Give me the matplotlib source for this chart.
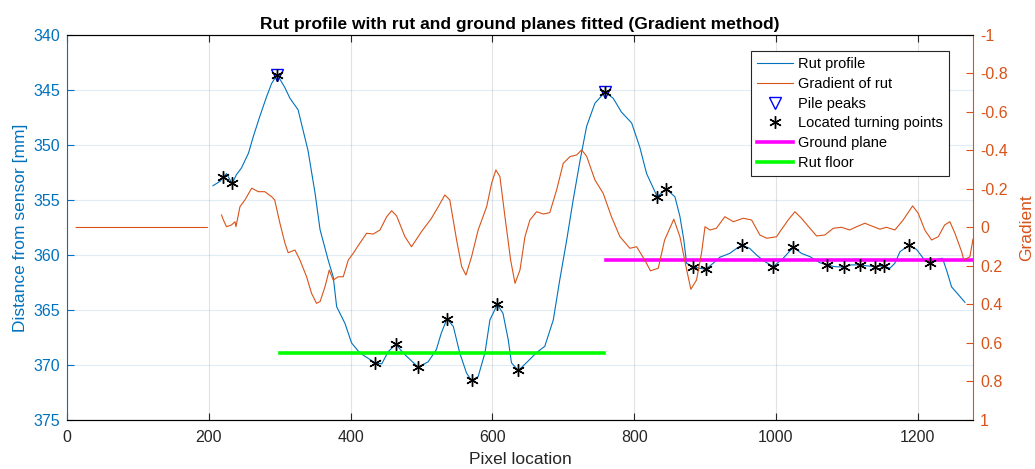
import matplotlib.pyplot as plt
import numpy as np
from matplotlib.lines import Line2D

plt.rcParams['font.family'] = ['Liberation Sans', 'DejaVu Sans']

# rut profile (pixel location, distance from sensor in mm)
rut_x = [206, 216, 220.5, 225, 233, 239, 246, 256, 263, 272, 281.6, 288.7, 296.6, 307.5, 314.5, 326, 340, 350,
         357, 368.6, 375.6, 380.4, 392, 401.5, 413, 425, 434.4, 444, 453, 464, 474, 495.5, 509.6, 521, 528, 536,
         545, 554, 563.7, 570.7, 580, 589.6, 596.6, 607, 615, 622.4, 627, 636.6, 648, 662, 674, 686, 695, 705,
         714, 723.5, 733, 744.7, 758.8, 770.5, 782, 796.5, 808, 817.6, 832.6, 845, 857.5, 864.6, 870, 874,
         883.3, 901, 911.5, 921, 935, 944.6, 952, 963, 972.7, 982, 996.2, 1010.3, 1024.4, 1036, 1048, 1062,
         1071.5, 1083, 1096, 1106.7, 1118.5, 1130, 1139.6, 1152, 1160.8, 1167.8, 1175, 1188, 1198.4, 1207.8,
         1217, 1226.7, 1235, 1240.8, 1247.8, 1257.3, 1266.6]
rut_y = [353.7, 353.3, 352.9, 352.6, 353.5, 352.7, 352.1, 350.75, 349.2, 347.4, 345.6, 344.4, 343.6, 344.8,
         345.75, 346.8, 350.5, 354.4, 357.7, 360.5, 362.0, 364.7, 366.2, 368.0, 368.9, 369.4, 369.8, 369.9,
         368.8, 368.1, 368.9, 370.2, 369.7, 368.6, 367.1, 365.8, 366.5, 368.9, 370.75, 371.4, 371.05, 368.9,
         365.9, 364.5, 365.3, 367.7, 369.8, 370.5, 369.8, 368.9, 368.3, 365.9, 362.3, 358.6, 355.0, 351.5,
         348.3, 346.2, 345.2, 345.75, 347.0, 348.0, 350.2, 352.6, 354.7, 354.0, 354.7, 356.5, 358.6, 360.75,
         361.1, 361.3, 360.75, 360.2, 359.85, 359.4, 359.1, 359.4, 360.0, 360.5, 361.06, 360.3, 359.3, 359.85,
         360.15, 360.7, 360.9, 361.06, 361.1, 360.9, 360.9, 361.0, 361.06, 361.0, 361.2, 360.75, 359.7, 359.1,
         359.5, 360.3, 360.75, 360.4, 360.3, 361.4, 362.9, 363.6, 364.3]

# gradient of rut (right axis); None splits the flat lead-in from the rest
grad_x = [13, 198, None,
          218, 220.5, 225, 232, 237, 238.4, 244, 251, 260.5, 270, 279, 288.7, 293, 300.4, 307.5, 312, 321.6,
          328.6, 338, 345, 352, 357, 364, 370, 375.6, 382.6, 389.7, 396.8, 403.8, 413, 422.7, 432, 441.5, 451,
          458, 465, 476.7, 486, 500, 514, 523.7, 533, 540, 549.6, 556.7, 562.8, 570.7, 580, 592, 599, 605,
          610.7, 617.8, 625.8, 632, 639, 646, 653, 662.5, 672, 681, 690.7, 700, 709.5, 719, 726, 733, 744.7,
          756.4, 768, 780, 794, 803.5, 815, 823, 834, 843, 856, 864.6, 873, 880, 888, 895, 900, 907, 916, 928,
          940, 954, 965.7, 977.4, 987, 1001, 1005.6, 1017.3, 1026.8, 1036, 1048, 1057.4, 1069, 1081, 1092.6,
          1104, 1113.8, 1125.5, 1135, 1146.7, 1156, 1167.8, 1179.5, 1192.8, 1200.7, 1210, 1219.6, 1229, 1238,
          1245.4, 1252.5, 1262, 1265, 1273.6, 1278]
grad_y = [0.0, 0.0, None,
          -0.065, -0.04, -0.004, -0.013, -0.03, -0.004, -0.108, -0.143, -0.204, -0.186, -0.186, -0.16, -0.143,
          -0.022, 0.082, 0.131, 0.117, 0.169, 0.256, 0.342, 0.394, 0.385, 0.307, 0.221, 0.273, 0.256, 0.256,
          0.169, 0.134, 0.082, 0.03, 0.034, 0.013, -0.056, -0.087, -0.06, 0.048, 0.1, 0.022, -0.047, -0.108,
          -0.169, -0.143, 0.065, 0.203, 0.247, 0.152, 0.013, -0.108, -0.23, -0.299, -0.264, -0.056, 0.169,
          0.29, 0.221, 0.048, -0.039, -0.082, -0.07, -0.077, -0.195, -0.333, -0.368, -0.377, -0.403, -0.37,
          -0.247, -0.177, -0.056, 0.048, 0.108, 0.1, 0.169, 0.225, 0.212, 0.065, -0.043, 0.048, 0.2, 0.321,
          0.273, 0.134, -0.004, 0.013, 0.004, -0.056, -0.03, -0.048, -0.039, 0.039, 0.056, 0.048, 0.022,
          -0.039, -0.082, -0.048, 0.004, 0.044, 0.039, 0.004, -0.001, 0.013, -0.004, -0.022, -0.008, 0.009,
          -0.001, 0.013, -0.039, -0.112, -0.074, 0.013, 0.065, 0.048, -0.013, -0.03, 0.03, 0.126, 0.169,
          0.152, 0.06]

peak_x = [296.6, 758.8]
peak_y = [343.6, 345.2]

turn_x = [220.5, 233, 296.6, 434.4, 464, 495.5, 536, 570.7, 607, 636.6, 758.8, 832.6, 845, 883.3, 901, 952,
          996.2, 1024.4, 1071.5, 1096, 1118.5, 1139.6, 1152, 1188, 1217]
turn_y = [352.9, 353.5, 343.6, 369.8, 368.1, 370.2, 365.8, 371.4, 364.5, 370.5, 345.2, 354.7, 354.0, 361.1,
          361.3, 359.1, 361.06, 359.3, 360.9, 361.1, 360.9, 361.06, 361.0, 359.1, 360.75]

ground_x = [760, 1278]
ground_y = 360.5
floor_x = [300, 757]
floor_y = 368.9

blue = '#0072BD'
orange = '#D95319'
dark = '#262626'
asterisk = (6, 2, 0)

fig = plt.figure(figsize=[10.35, 4.69], dpi=100)
ax = fig.add_axes([0.0647, 0.1045, 0.8754, 0.8209])
ax2 = ax.twinx()

ax.plot(rut_x, rut_y, color=blue, lw=0.8, zorder=3)
ax.plot(peak_x, peak_y, 'v', ms=8, mfc='none', mec='blue', mew=1.0, zorder=4)
ax.plot(turn_x, turn_y, marker=asterisk, ls='none', ms=9, color='black', mew=1.0, zorder=5)
ax.plot(ground_x, [ground_y, ground_y], color='magenta', lw=2.6, zorder=4)
ax.plot(floor_x, [floor_y, floor_y], color='#00FF00', lw=2.6, zorder=4)

gx = np.array([np.nan if v is None else v for v in grad_x], dtype=float)
gy = np.array([np.nan if v is None else v for v in grad_y], dtype=float)
ax2.plot(gx, gy, color=orange, lw=0.8)

ax.set_xlim(0, 1278)
ax.set_ylim(375, 340)
ax2.set_ylim(1, -1)

ax.set_xticks(np.arange(0, 1201, 200))
ax.set_yticks(np.arange(340, 376, 5))
ax2.set_yticks(np.arange(-1, 1.01, 0.2))
ax2.set_yticklabels(['-1', '-0.8', '-0.6', '-0.4', '-0.2', '0', '0.2', '0.4', '0.6', '0.8', '1'])

# grid: vertical lines grey, horizontal lines tinted with the left axis colour
for xv in ax.get_xticks():
    ax.axvline(xv, color=dark, alpha=0.13, lw=0.8, zorder=0)
for yv in ax.get_yticks():
    ax.axhline(yv, color=blue, alpha=0.12, lw=0.8, zorder=0)

ax.tick_params(axis='x', direction='in', top=True, colors=dark, labelsize=11.5, length=5, width=0.8, pad=7)
ax.tick_params(axis='y', direction='in', colors=blue, labelsize=11.5, length=5, width=0.8, right=False, pad=5)
ax2.tick_params(axis='y', direction='in', colors=orange, labelsize=11.5, length=5, width=0.8, pad=5)

for s in ['top', 'bottom']:
    ax.spines[s].set_color(dark)
    ax.spines[s].set_linewidth(0.8)
ax.spines['left'].set_color(blue)
ax.spines['left'].set_linewidth(0.8)
ax2.spines['right'].set_color(orange)
ax2.spines['right'].set_linewidth(0.8)
ax2.spines['left'].set_visible(False)
ax.spines['right'].set_visible(False)

ax.set_xlabel('Pixel location', fontsize=12.5, color=dark, labelpad=5)
ax.set_ylabel('Distance from sensor [mm]', fontsize=12.5, color=blue, labelpad=4)
ax2.set_ylabel('Gradient', fontsize=12.5, color=orange, labelpad=8)
ax.set_title('Rut profile with rut and ground planes fitted (Gradient method)',
             fontsize=12.5, fontweight='bold', color='black', pad=4)

handles = [
    Line2D([], [], color=blue, lw=0.8),
    Line2D([], [], color=orange, lw=0.8),
    Line2D([], [], marker='v', ls='none', ms=8, mfc='none', mec='blue', mew=1.0),
    Line2D([], [], marker=asterisk, ls='none', ms=9, color='black', mew=1.0),
    Line2D([], [], color='magenta', lw=2.6),
    Line2D([], [], color='#00FF00', lw=2.6),
]
labels = ['Rut profile', 'Gradient of rut', 'Pile peaks', 'Located turning points', 'Ground plane', 'Rut floor']
leg = ax2.legend(handles, labels, loc='upper right', bbox_to_anchor=(0.9735, 0.958), borderaxespad=0,
                 fontsize=10.5, fancybox=False, framealpha=1, edgecolor=dark, handlelength=2.5,
                 handletextpad=0.35, labelspacing=0.4, borderpad=0.4)
leg.get_frame().set_linewidth(0.8)

plt.savefig('out.png', dpi=100)
